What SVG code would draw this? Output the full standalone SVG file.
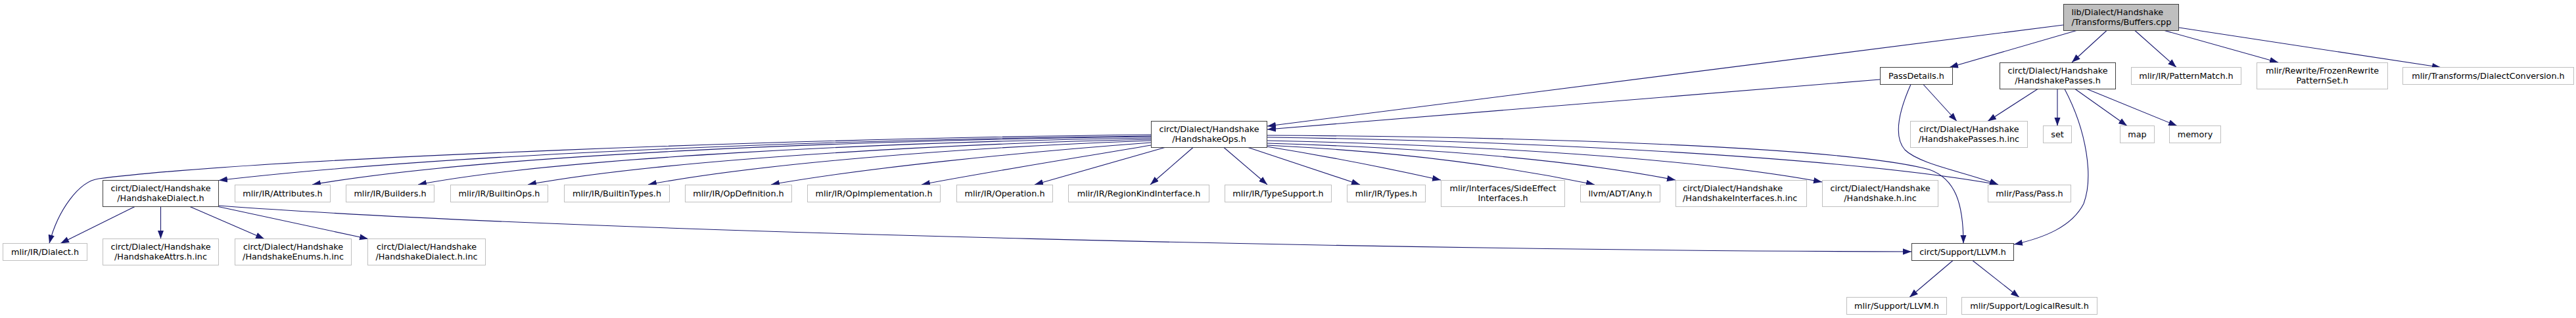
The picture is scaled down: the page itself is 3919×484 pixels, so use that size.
<svg xmlns="http://www.w3.org/2000/svg" width="3919" height="484" viewBox="0 0 3919 484">
<style>
text{font-family:"DejaVu Sans",sans-serif;font-size:12.8px;fill:#000;text-anchor:middle}
text.l{text-anchor:start}
.g rect{fill:#fff;stroke:#bfbfbf;stroke-width:1}
.d rect{fill:#fff;stroke:#404040;stroke-width:1}
.r rect{fill:#bfbfbf;stroke:#404040;stroke-width:1}
#edges path{fill:none;stroke:#191970;stroke-width:1.1;marker-end:url(#a)}
</style>
<defs>
<marker id="a" markerUnits="userSpaceOnUse" markerWidth="14" markerHeight="10" refX="13" refY="4.7" orient="auto"><path d="M0,0 L13,4.7 L0,9.4 z" fill="#191970"/></marker>
</defs>
<rect width="3919" height="484" fill="#fff"/>
<g id="edges">
<path d="M3139,38 L1928,192"/>
<path d="M2860,121 L1928,197"/>
<path d="M3159,46.5 L2966,102.5"/>
<path d="M3205,46.5 L3152,95"/>
<path d="M3248,46.5 L3311,102.5"/>
<path d="M3293,46.5 L3466,95"/>
<path d="M3315,42 L3713,102.5"/>
<path d="M2926,128.5 L2977,184.5"/>
<path d="M2907,128.5 C2893,160 2878,205 2898,228 C2920,250 2990,262 3040,281"/>
<path d="M3100,135.5 L3024,184.5"/>
<path d="M3130,135.5 L3130,191.5"/>
<path d="M3157,135.5 L3236,191.5"/>
<path d="M3175,135.5 L3312,191.5"/>
<path d="M3141,135.5 C3175,200 3185,270 3170,310 C3152,345 3110,362 3064,372"/>
<path d="M1751,205 C1250,210 400,240 150,272 C120,276 88,320 75,370.5"/>
<path d="M1751,207 C1300,212 700,232 333,274.5"/>
<path d="M1751,208 C1300,214 750,234 475,281"/>
<path d="M1751,210 C1350,216 850,240 636,281"/>
<path d="M1751,212 C1400,220 1000,245 803,281"/>
<path d="M1751,214 C1450,225 1150,250 986,281"/>
<path d="M1751,217 C1550,232 1320,255 1173,281"/>
<path d="M1751,221 C1640,240 1500,262 1402,281"/>
<path d="M1772,224.5 L1574,281"/>
<path d="M1815,224.5 L1750,281"/>
<path d="M1862,224.5 L1928,281"/>
<path d="M1899,224.5 L2069,281"/>
<path d="M1927,223 C2020,238 2120,258 2192,274"/>
<path d="M1927,221 C2150,232 2300,255 2426,281"/>
<path d="M1927,218 C2200,226 2400,245 2549,274"/>
<path d="M1927,214 C2300,222 2600,245 2772,277"/>
<path d="M1927,209 C2300,214 2800,238 3040,281"/>
<path d="M1927,206 C2300,208 2800,222 2935,258 C2975,272 2987,310 2987,370.5"/>
<path d="M205,314.5 L92,370.5"/>
<path d="M244.5,314.5 L244.5,363.5"/>
<path d="M289,314.5 L402,363.5"/>
<path d="M332,314.5 L560,363.5"/>
<path d="M332.5,313 C900,355 2200,382 2908,383"/>
<path d="M2971,396.5 L2905,452.5"/>
<path d="M3001,396.5 L3072,452.5"/>
</g>
<g id="root" class="r"><rect x="3139.5" y="6.5" width="175" height="40"/><text class="l" x="3151.5" y="22.5">lib/Dialect/Handshake</text><text class="l" x="3151.5" y="37.5">/Transforms/Buffers.cpp</text></g>
<g id="PassDetails" class="d"><rect x="2860.5" y="102.5" width="110" height="26"/><text x="2915.5" y="120">PassDetails.h</text></g>
<g id="HandshakePasses" class="d"><rect x="3042.5" y="95.5" width="176" height="40"/><text x="3130.5" y="112">circt/Dialect/Handshake</text><text x="3130.5" y="127">/HandshakePasses.h</text></g>
<g id="PatternMatch" class="g"><rect x="3242.5" y="102.5" width="167" height="26"/><text x="3326" y="120">mlir/IR/PatternMatch.h</text></g>
<g id="FrozenRewrite" class="g"><rect x="3433.5" y="95.5" width="199" height="40"/><text x="3533" y="112">mlir/Rewrite/FrozenRewrite</text><text x="3533" y="127">PatternSet.h</text></g>
<g id="DialectConversion" class="g"><rect x="3655.5" y="102.5" width="260" height="26"/><text x="3785.5" y="120">mlir/Transforms/DialectConversion.h</text></g>
<g id="HandshakeOps" class="d"><rect x="1751.5" y="184.5" width="176" height="40"/><text x="1839.5" y="201">circt/Dialect/Handshake</text><text x="1839.5" y="216">/HandshakeOps.h</text></g>
<g id="HandshakePassesInc" class="g"><rect x="2906.5" y="184.5" width="178" height="40"/><text x="2995.5" y="201">circt/Dialect/Handshake</text><text x="2995.5" y="216">/HandshakePasses.h.inc</text></g>
<g id="set" class="g"><rect x="3108.5" y="191.5" width="43" height="26"/><text x="3130" y="209">set</text></g>
<g id="map" class="g"><rect x="3225.5" y="191.5" width="52" height="26"/><text x="3251.5" y="209">map</text></g>
<g id="memory" class="g"><rect x="3300.5" y="191.5" width="78" height="26"/><text x="3339.5" y="209">memory</text></g>
<g id="HandshakeDialect" class="d"><rect x="156.5" y="274.5" width="176" height="40"/><text x="244.5" y="290.5">circt/Dialect/Handshake</text><text x="244.5" y="305.5">/HandshakeDialect.h</text></g>
<g id="Attributes" class="g"><rect x="357.5" y="281.5" width="145" height="26"/><text x="430" y="298.5">mlir/IR/Attributes.h</text></g>
<g id="Builders" class="g"><rect x="526.5" y="281.5" width="134" height="26"/><text x="593.5" y="298.5">mlir/IR/Builders.h</text></g>
<g id="BuiltinOps" class="g"><rect x="685.5" y="281.5" width="148" height="26"/><text x="759.5" y="298.5">mlir/IR/BuiltinOps.h</text></g>
<g id="BuiltinTypes" class="g"><rect x="858.5" y="281.5" width="160" height="26"/><text x="938.5" y="298.5">mlir/IR/BuiltinTypes.h</text></g>
<g id="OpDefinition" class="g"><rect x="1042.5" y="281.5" width="162" height="26"/><text x="1123.5" y="298.5">mlir/IR/OpDefinition.h</text></g>
<g id="OpImplementation" class="g"><rect x="1228.5" y="281.5" width="202" height="26"/><text x="1329.5" y="298.5">mlir/IR/OpImplementation.h</text></g>
<g id="Operation" class="g"><rect x="1455.5" y="281.5" width="146" height="26"/><text x="1528.5" y="298.5">mlir/IR/Operation.h</text></g>
<g id="RegionKindInterface" class="g"><rect x="1625.5" y="281.5" width="214" height="26"/><text x="1732.5" y="298.5">mlir/IR/RegionKindInterface.h</text></g>
<g id="TypeSupport" class="g"><rect x="1863.5" y="281.5" width="162" height="26"/><text x="1944.5" y="298.5">mlir/IR/TypeSupport.h</text></g>
<g id="Types" class="g"><rect x="2049.5" y="281.5" width="119" height="26"/><text x="2109" y="298.5">mlir/IR/Types.h</text></g>
<g id="SideEffect" class="g"><rect x="2192.5" y="274.5" width="188" height="40"/><text x="2286.5" y="290.5">mlir/Interfaces/SideEffect</text><text x="2286.5" y="305.5">Interfaces.h</text></g>
<g id="Any" class="g"><rect x="2404.5" y="281.5" width="121" height="26"/><text x="2465" y="298.5">llvm/ADT/Any.h</text></g>
<g id="HandshakeInterfacesInc" class="g"><rect x="2549.5" y="274.5" width="199" height="40"/><text class="l" x="2560" y="290.5">circt/Dialect/Handshake</text><text class="l" x="2560" y="305.5">/HandshakeInterfaces.h.inc</text></g>
<g id="HandshakeInc" class="g"><rect x="2772.5" y="274.5" width="176" height="40"/><text x="2860.5" y="290.5">circt/Dialect/Handshake</text><text x="2860.5" y="305.5">/Handshake.h.inc</text></g>
<g id="Pass" class="g"><rect x="3024.5" y="281.5" width="126" height="26"/><text x="3087.5" y="298.5">mlir/Pass/Pass.h</text></g>
<g id="Dialect" class="g"><rect x="4.5" y="370.5" width="128" height="26"/><text x="68.5" y="387.5">mlir/IR/Dialect.h</text></g>
<g id="HandshakeAttrsInc" class="g"><rect x="156.5" y="363.5" width="176" height="40"/><text x="244.5" y="379.5">circt/Dialect/Handshake</text><text x="244.5" y="394.5">/HandshakeAttrs.h.inc</text></g>
<g id="HandshakeEnumsInc" class="g"><rect x="357.5" y="363.5" width="177" height="40"/><text x="446" y="379.5">circt/Dialect/Handshake</text><text x="446" y="394.5">/HandshakeEnums.h.inc</text></g>
<g id="HandshakeDialectInc" class="g"><rect x="559.5" y="363.5" width="179" height="40"/><text x="649" y="379.5">circt/Dialect/Handshake</text><text x="649" y="394.5">/HandshakeDialect.h.inc</text></g>
<g id="CirctLLVM" class="d"><rect x="2908.5" y="370.5" width="155" height="26"/><text x="2986" y="387.5">circt/Support/LLVM.h</text></g>
<g id="MlirLLVM" class="g"><rect x="2809.5" y="452.5" width="152" height="26"/><text x="2885.5" y="469.5">mlir/Support/LLVM.h</text></g>
<g id="LogicalResult" class="g"><rect x="2984.5" y="452.5" width="206" height="26"/><text x="3087.5" y="469.5">mlir/Support/LogicalResult.h</text></g>
</svg>
